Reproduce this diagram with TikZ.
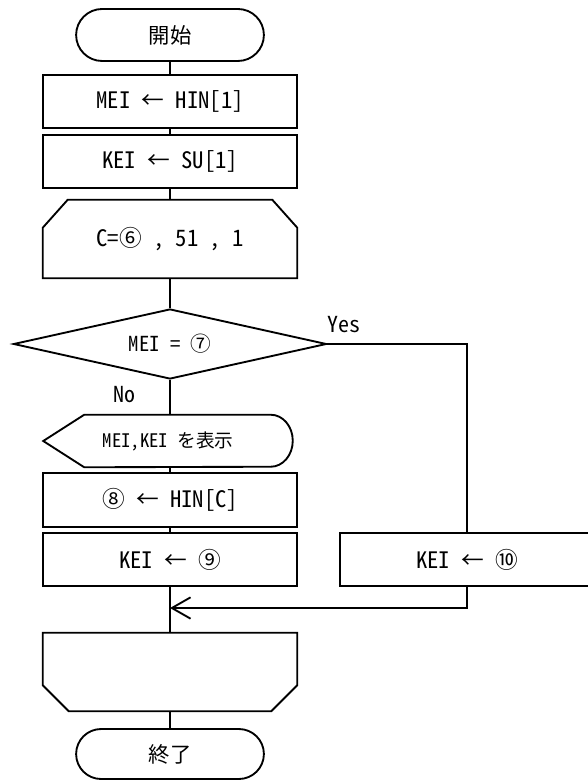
\documentclass[tikz,border=0pt]{standalone}
\usepackage{fontspec}
\setmainfont{Noto Sans CJK JP}[RawFeature=+hwid]
\usetikzlibrary{shapes.geometric, shapes.misc, arrows.meta, calc}

\begin{document}
\begin{tikzpicture}[
  x=0.75pt, y=-0.75pt,
  term/.style={rounded rectangle, draw, line width=1.4pt,
               minimum width=147.5pt, minimum height=39pt,
               font=\fontsize{16}{19}\selectfont},
  proc/.style={rectangle, draw, line width=1.4pt,
               minimum width=190.5pt, minimum height=40pt,
               font=\fontsize{17}{20}\selectfont},
  lim/.style={rectangle, minimum width=190.5pt, minimum height=58.5pt,
              font=\fontsize{17}{20}\selectfont},
  outbox/.style={rectangle, minimum width=186.75pt, minimum height=39pt,
                 font=\fontsize{14}{17}\selectfont},
  dec/.style={diamond, draw, line width=1.4pt, aspect=4.47, inner sep=0pt,
              minimum width=234.75pt, minimum height=52.5pt,
              font=\fontsize{15.5}{18}\selectfont},
  lbl/.style={font=\fontsize{16.5}{19}\selectfont},
  flow/.style={line width=1.4pt},
  back/.style={line width=1.4pt, -{Straight Barb[length=14pt, width=16pt]}}
]
\useasboundingbox (0,0) rectangle (587,780);

% ── Start and first assignments ─────────────────────────────────────────
\node[term] (start) at (170,35)    {開始};
\node[proc] (mei1)  at (170,101.5) {MEI ← HIN[1]};
\node[proc] (kei1)  at (170,161.5) {KEI ← SU[1]};

% ── Loop start (chamfered top) ──────────────────────────────────────────
\node[lim] (lpbeg) at (170,239) {C=⑥ , 51 , 1};
\draw[flow] ($(lpbeg.north west)+(25,0)$) -- ($(lpbeg.north east)+(-25,0)$)
  -- ($(lpbeg.north east)+(0,28)$) -- (lpbeg.south east)
  -- (lpbeg.south west) -- ($(lpbeg.north west)+(0,28)$) -- cycle;

% ── Decision ────────────────────────────────────────────────────────────
\node[dec] (cmp) at (170,344) {MEI = ⑦};
\node[lbl] (yes) at (344,325) {Yes};
\node[lbl] (no)  at (124,395) {No};

% ── No branch: display, then update ─────────────────────────────────────
\node[outbox] (show) at (168,441) {MEI,KEI を表示};
\draw[flow] (show.west) -- ($(show.north west)+(41,0)$)
  -- ($(show.north east)+(-22,0)$)
  arc[start angle=90, end angle=-90, x radius=16.5pt, y radius=19.5pt]
  -- ($(show.south west)+(41,0)$) -- cycle;

\node[proc] (mei2) at (170,500)   {⑧ ← HIN[C]};
\node[proc] (kei2) at (170,559.5) {KEI ← ⑨};

% ── Yes branch ──────────────────────────────────────────────────────────
\node[proc] (kei3) at (467,559.5) {KEI ← ⑩};
\coordinate (merge) at (170,608);

% ── Loop end (chamfered bottom) and stop ────────────────────────────────
\node[lim] (lpend) at (170,672) {};
\draw[flow] (lpend.north west) -- (lpend.north east)
  -- ($(lpend.south east)+(0,-26)$) -- ($(lpend.south east)+(-26,0)$)
  -- ($(lpend.south west)+(26,0)$) -- ($(lpend.south west)+(0,-26)$) -- cycle;

\node[term, minimum height=37.5pt] (stop) at (170,754) {終了};

% ── Connectors ──────────────────────────────────────────────────────────
\draw[flow] (start.south) -- (mei1.north);
\draw[flow] (mei1.south)  -- (kei1.north);
\draw[flow] (kei1.south)  -- (lpbeg.north);
\draw[flow] (lpbeg.south) -- (cmp.north);
\draw[flow] (cmp.south)   -- (cmp.south |- show.north);
\draw[flow] (cmp.south |- show.south) -- (mei2.north);
\draw[flow] (mei2.south)  -- (kei2.north);
\draw[flow] (kei2.south)  -- (lpend.north);
\draw[flow] (lpend.south) -- (stop.north);

\draw[flow] (cmp.east) -| (kei3.north);
\draw[back] (kei3.south) |- (merge);

\end{tikzpicture}
\end{document}
